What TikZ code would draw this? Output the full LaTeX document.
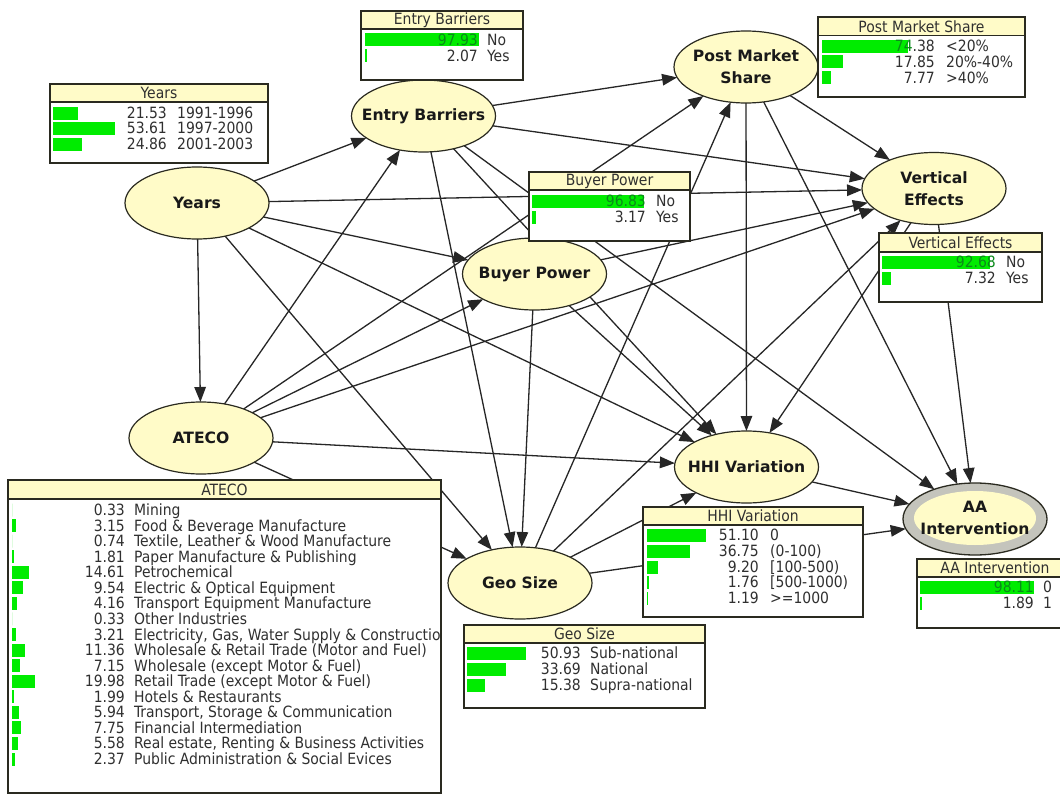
\documentclass[tikz,border=0pt]{standalone}
\usepackage{fontspec}
\setmainfont{DejaVu Sans Condensed}
\newfontfamily\boldlab{DejaVu Sans}
\usetikzlibrary{shapes.geometric,arrows.meta}
\definecolor{nodefill}{HTML}{FFFBC8}
\definecolor{bargreen}{HTML}{00EC00}
\definecolor{inkline}{HTML}{2A2A20}
\definecolor{boxtext}{HTML}{303030}
\definecolor{ovl}{HTML}{0A8A1A}
\definecolor{ringgrey}{HTML}{C4C4BC}
\pgfdeclarelayer{paper}
\pgfdeclarelayer{edges}
\pgfsetlayers{paper,edges,main}
\newcount\rowid
\newcommand\cptcols[3]{\def\barx{#1}\def\valx{#2}\def\labx{#3}}
\newcommand\cptbox[7]{%
  \node[cptframe,anchor=north west,minimum width={(#4-#2)*1bp},minimum height={(#5-#3)*1bp}] (#1) at (#2,#3) {};
  \node[cpthead,anchor=north west,minimum width={(#4-#2)*1bp},minimum height={(#6-#3)*1bp}] (#1-head) at (#2,#3) {#7};
}
\newcommand\cptrow[4]{%
  \global\advance\rowid by 1
  \fill[bargreen] ({\barx},{#1-6.5}) rectangle ({\barx+1.16*#2},{#1+6.5});
  \node[cptval] (val\the\rowid) at (\valx,{#1+5.5}) {#3};
  \node[cptlab] (lab\the\rowid) at (\labx,{#1+5.5}) {#4};
}
\tikzset{
  bn/.style={ellipse,draw=inkline,line width=1.2bp,fill=nodefill,inner sep=0pt,outer sep=0pt,minimum width=144bp,minimum height=72bp},
  bnlab/.style={font=\fontsize{15.6bp}{22bp}\selectfont\boldlab\bfseries,align=center,text=black!90},
  cptframe/.style={draw=inkline,line width=1.2bp,fill=white,inner sep=0pt,outer sep=0pt},
  cpthead/.style={draw=inkline,line width=1.2bp,fill=nodefill,inner sep=0pt,outer sep=0pt,text=boxtext,font=\fontsize{15.5bp}{16bp}\selectfont},
  cptval/.style={anchor=base east,inner sep=0pt,text=boxtext,font=\fontsize{15.5bp}{16bp}\selectfont},
  cptlab/.style={anchor=base west,inner sep=0pt,text=boxtext,font=\fontsize{15.5bp}{16bp}\selectfont},
  arc/.style={-{Triangle[length=15bp,width=11.5bp]},line width=1.3bp,draw=black!85},
}
\begin{document}
\begin{tikzpicture}[x=1bp,y=-1bp]
\useasboundingbox (0,0) rectangle (1060,794);
\clip (0,0) rectangle (1060,794);
\begin{pgfonlayer}{paper}
\fill[white] (0,0) rectangle (1060,794);
\end{pgfonlayer}
% Network nodes
\node[bn,label={[bnlab]center:Years}] (years) at (197,203) {};
\node[bn,label={[bnlab]center:Entry Barriers}] (entry) at (423.5,116) {};
\node[bn,label={[bnlab]center:Post Market\\Share}] (pms) at (746,67) {};
\node[bn,label={[bnlab]center:Vertical\\Effects}] (vert) at (934,188.5) {};
\node[bn,label={[bnlab]center:Buyer Power}] (buyer) at (534.5,274) {};
\node[bn,label={[bnlab]center:ATECO}] (ateco) at (201,438) {};
\node[bn,label={[bnlab]center:HHI Variation}] (hhi) at (746.5,467) {};
\node[bn,label={[bnlab]center:Geo Size}] (geo) at (520,583) {};
\node[bn,fill=ringgrey,line width=1.3bp] (aa) at (975,519) {};
\node[ellipse,fill=nodefill,inner sep=0pt,minimum width=122bp,minimum height=54bp,label={[bnlab]center:AA\\Intervention}] (aain) at (975,518) {};
% Arcs
\begin{pgfonlayer}{edges}
\foreach \a/\b in {years/entry,years/vert,years/buyer,years/ateco,years/hhi,years/geo,
  entry/pms,entry/vert,entry/geo,entry/hhi,entry/aa,
  buyer/vert,buyer/hhi,buyer/geo,
  ateco/entry,ateco/pms,ateco/buyer,ateco/vert,ateco/hhi,ateco/geo,
  pms/vert,pms/hhi,pms/aa,
  vert/hhi,vert/aa,
  hhi/aa,
  geo/pms,geo/vert,geo/hhi,geo/aa}
  \draw[arc] (\a) -- (\b);
\end{pgfonlayer}
% Years
\cptbox{cyears}{50}{84}{268}{163}{102}{Years}
\cptcols{53}{167}{177}
\cptrow{113}{21.53}{21.53}{1991-1996}
\cptrow{128}{53.61}{53.61}{1997-2000}
\cptrow{144}{24.86}{24.86}{2001-2003}
% Entry Barriers
\cptbox{centry}{361}{11}{523}{80}{29}{Entry Barriers}
\cptcols{365}{478}{487}
\cptrow{40}{97.93}{\textcolor{ovl}{97.93}}{No}
\cptrow{56}{2.07}{2.07}{Yes}
% Post Market Share
\cptbox{cpms}{818}{17}{1025}{97}{35.5}{Post Market Share}
\cptcols{822}{935}{946}
\cptrow{46.5}{74.38}{\textcolor{ovl}{74}.38}{<20\%}
\cptrow{62}{17.85}{17.85}{20\%-40\%}
\cptrow{78}{7.77}{7.77}{>40\%}
% Buyer Power
\cptbox{cbuyer}{529}{172}{690}{241}{190}{Buyer Power}
\cptcols{532}{646}{656}
\cptrow{201}{96.83}{\textcolor{ovl}{96.83}}{No}
\cptrow{217}{3.17}{3.17}{Yes}
% Vertical Effects
\cptbox{cvert}{879}{233}{1042}{302}{252}{Vertical Effects}
\cptcols{882}{996}{1006}
\cptrow{262}{92.68}{\textcolor{ovl}{92.68}}{No}
\cptrow{278}{7.32}{7.32}{Yes}
% HHI Variation
\cptbox{chhi}{643}{507}{863}{617}{525}{HHI Variation}
\cptcols{647}{759}{770}
\cptrow{535}{51.10}{51.10}{0}
\cptrow{551}{36.75}{36.75}{(0-100)}
\cptrow{567}{9.20}{9.20}{[100-500)}
\cptrow{582}{1.76}{1.76}{[500-1000)}
\cptrow{598}{1.19}{1.19}{>=1000}
% AA Intervention
\cptbox{caa}{917}{559}{1073}{628}{577}{AA Intervention}
\cptcols{920}{1034}{1043}
\cptrow{587}{98.11}{\textcolor{ovl}{98.11}}{0}
\cptrow{603}{1.89}{1.89}{1}
% Geo Size
\cptbox{cgeo}{464}{625}{705}{708}{643}{Geo Size}
\cptcols{467}{581}{590}
\cptrow{653}{50.93}{50.93}{Sub-national}
\cptrow{669}{33.69}{33.69}{National}
\cptrow{685}{15.38}{15.38}{Supra-national}
% ATECO
\cptbox{cateco}{8}{480}{441}{793}{499}{ATECO}
\begin{scope}
\clip (8,499) rectangle (441,793);
\cptcols{12}{125}{134}
\cptrow{510}{0}{0.33}{Mining}
\cptrow{525.6}{3.15}{3.15}{Food \& Beverage Manufacture}
\cptrow{541.1}{0}{0.74}{Textile, Leather \& Wood Manufacture}
\cptrow{556.7}{1.81}{1.81}{Paper Manufacture \& Publishing}
\cptrow{572.2}{14.61}{14.61}{Petrochemical}
\cptrow{587.8}{9.54}{9.54}{Electric \& Optical Equipment}
\cptrow{603.4}{4.16}{4.16}{Transport Equipment Manufacture}
\cptrow{618.9}{0}{0.33}{Other Industries}
\cptrow{634.5}{3.21}{3.21}{Electricity, Gas, Water Supply \& Construction}
\cptrow{650}{11.36}{11.36}{Wholesale \& Retail Trade (Motor and Fuel)}
\cptrow{665.6}{7.15}{7.15}{Wholesale (except Motor \& Fuel)}
\cptrow{681.1}{19.98}{19.98}{Retail Trade (except Motor \& Fuel)}
\cptrow{696.7}{1.99}{1.99}{Hotels \& Restaurants}
\cptrow{712.3}{5.94}{5.94}{Transport, Storage \& Communication}
\cptrow{727.8}{7.75}{7.75}{Financial Intermediation}
\cptrow{743.4}{5.58}{5.58}{Real estate, Renting \& Business Activities}
\cptrow{759}{2.37}{2.37}{Public Administration \& Social Evices}
\end{scope}
\draw[inkline,line width=1.2bp] (8,499) -- (8,793) -- (441,793) -- (441,499);
\end{tikzpicture}
\end{document}
